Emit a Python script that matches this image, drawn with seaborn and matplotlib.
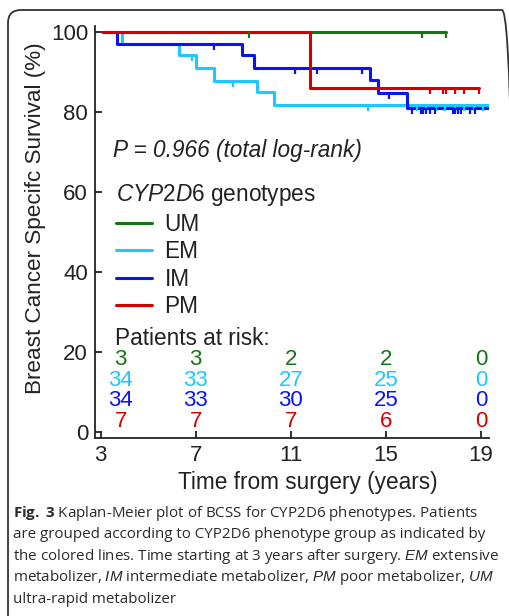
import numpy as np
import pandas as pd
import matplotlib
matplotlib.use("Agg")
import matplotlib.pyplot as plt
import seaborn as sns
from matplotlib.lines import Line2D
from matplotlib.patches import FancyBboxPatch
from matplotlib.transforms import IdentityTransform

# Kaplan-Meier step data (years after surgery, survival %)
groups = ["UM", "EM", "IM", "PM"]
colors = {"UM": "#157515", "EM": "#1ec8ff", "IM": "#0a14f0", "PM": "#d40000"}

start_time = 3.1
um_events = []
um_surv = []
um_end = 17.55
um_censor = [9.22, 16.52, 17.55]

em_events = [3.88, 6.31, 7.01, 7.76, 9.56, 10.29]
em_surv = [97.0, 94.1, 91.0, 87.8, 85.0, 81.8]
em_end = 19.3
em_censor = [6.83, 8.55, 14.23, 16.3, 16.7, 17.1, 17.5, 17.9, 18.3, 18.7, 19.1]

im_events = [3.67, 8.93, 9.45, 14.32, 14.67, 15.87]
im_surv = [97.0, 94.1, 91.0, 87.9, 84.7, 80.9]
im_end = 19.37
im_censor = [7.76, 11.17, 12.12, 14.0, 15.14, 16.08, 16.47, 16.57, 16.71,
             16.85, 17.06, 17.83, 17.93, 18.04, 18.18, 18.53, 18.74]

pm_events = [11.80]
pm_surv = [85.9]
pm_end = 18.91
pm_censor = [16.85, 17.41, 17.55, 17.93, 18.28, 18.91]

# patients at risk
risk_times = [3, 7, 11, 15, 19]
risk_um = [3, 3, 2, 2, 0]
risk_em = [34, 33, 27, 25, 0]
risk_im = [34, 33, 30, 25, 0]
risk_pm = [7, 7, 7, 6, 0]

curves = {
    "UM": (um_events, um_surv, um_end, um_censor, risk_um),
    "EM": (em_events, em_surv, em_end, em_censor, risk_em),
    "IM": (im_events, im_surv, im_end, im_censor, risk_im),
    "PM": (pm_events, pm_surv, pm_end, pm_censor, risk_pm),
}

sns.set_style("ticks")
plt.rcParams["font.family"] = ["Liberation Sans", "DejaVu Sans"]
plt.rcParams["mathtext.fontset"] = "custom"
plt.rcParams["mathtext.rm"] = "Liberation Sans"
plt.rcParams["mathtext.it"] = "Liberation Sans:italic"
plt.rcParams["mathtext.bf"] = "Open Sans:bold"

FS = 16.3
TXT = "#222222"

rows = []
for g in groups:
    ev, sv, end, _, _ = curves[g]
    t = [start_time] + list(ev) + [end]
    s = [100.0] + list(sv) + [sv[-1] if sv else 100.0]
    for ti, si in zip(t, s):
        rows.append({"time": ti, "surv": si, "group": g})
df = pd.DataFrame(rows)

fig = plt.figure(figsize=(5.1, 6.16), dpi=100)
ax = fig.add_axes([0.1863, 0.2894, 0.7725, 0.6688])

sns.lineplot(data=df, x="time", y="surv", hue="group", hue_order=groups,
             palette=colors, estimator=None, drawstyle="steps-post",
             linewidth=2.2, legend=False, ax=ax)

# censor ticks
for g in groups:
    ev, sv, end, cens, _ = curves[g]
    t = np.array(ev)
    s = np.array([100.0] + list(sv))
    cy = [s[np.searchsorted(t, c, side="right")] for c in cens]
    ax.plot(cens, cy, linestyle="none", marker=3, markersize=4,
            markeredgewidth=1.6, color=colors[g], zorder=3)

ax.set_xlim(2.76, 19.34)
ax.set_ylim(-1.5, 101.5)
ax.set_xticks(risk_times)
ax.set_yticks([0, 20, 40, 60, 80, 100])
ax.tick_params(direction="in", length=5, width=1.3, labelsize=FS - 0.3,
               colors=TXT, pad=5)
for side in ["top", "right"]:
    ax.spines[side].set_visible(False)
for side in ["left", "bottom"]:
    ax.spines[side].set_linewidth(1.3)
    ax.spines[side].set_color(TXT)

ax.set_xlabel("Time from surgery (years)", fontsize=FS, color=TXT,
              va="center")
ax.xaxis.set_label_coords(0.54, -0.108)
ax.set_ylabel("Breast Cancer Specifc Survival (%)", fontsize=16.2,
              color=TXT, va="center")
ax.yaxis.set_label_coords(-0.152, 0.532)

ax.text(3.5, 70.4, "P = 0.966 (total log-rank)", fontsize=FS,
        style="italic", va="center", color=TXT)

handles = [Line2D([], [], color=colors[g], lw=2.2) for g in groups]
leg = ax.legend(handles, groups, title=r"$\mathit{CYP2D6}$ genotypes",
                loc="upper left", bbox_to_anchor=(0.053, 0.62),
                frameon=False, alignment="left", fontsize=FS,
                title_fontsize=FS, handlelength=1.6, handletextpad=0.55,
                labelspacing=0.2, borderpad=0, borderaxespad=0)
for txt in leg.get_texts():
    txt.set_color(TXT)
leg.get_title().set_color(TXT)

ax.text(3.6, 23.3, "Patients at risk:", fontsize=FS, va="center", color=TXT)
risk_x = [3.84] + risk_times[1:]
risk_y = {"UM": 18.0, "EM": 12.8, "IM": 7.7, "PM": 2.5}
for g in groups:
    for x, n in zip(risk_x, curves[g][4]):
        ax.text(x, risk_y[g], str(n), fontsize=FS - 0.3, ha="center",
                va="center", color=colors[g])

# caption
caption = [
    r"$\mathbf{Fig.}$ $\mathbf{3}$ Kaplan-Meier plot of BCSS for CYP2D6 phenotypes. Patients",
    "are grouped according to CYP2D6 phenotype group as indicated by",
    r"the colored lines. Time starting at 3 years after surgery. $\mathit{EM}$ extensive",
    r"metabolizer, $\mathit{IM}$ intermediate metabolizer, $\mathit{PM}$ poor metabolizer, $\mathit{UM}$",
    "ultra-rapid metabolizer",
]
cap_y = [0.1672, 0.1315, 0.0974, 0.0617, 0.026]
for line, y in zip(caption, cap_y):
    fig.text(0.025, y, line, family=["Open Sans", "DejaVu Sans"],
             fontsize=10.9, va="center", ha="left", color="#2a2a2a")

frame = FancyBboxPatch((8, -30), 507, 636,
                       boxstyle="round,pad=0,rounding_size=13",
                       transform=IdentityTransform(), fill=False,
                       edgecolor="#333333", linewidth=1.3)
fig.add_artist(frame)

fig.savefig("out.png", dpi=100)
